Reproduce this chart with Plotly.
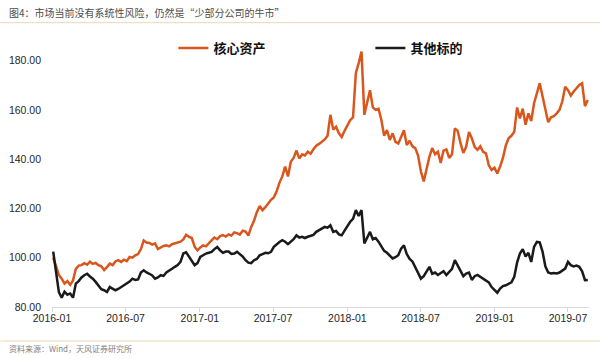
import pandas as pd
import plotly.graph_objects as go

# weekly observations starting 2016-01-04
start_date = "2016-01-04"
core_assets = [
    100.0, 96.5, 93.0, 91.5, 89.5, 90.5, 89.0, 90.8, 95.5, 96.8,
    97.0, 97.8, 97.2, 98.4, 97.5, 97.9, 97.0, 96.5, 95.0, 96.2,
    97.6, 97.0, 98.5, 99.0, 98.3, 99.2, 98.6, 100.3, 100.0, 101.0,
    101.5, 103.5, 107.0, 106.2, 106.0, 105.3, 105.8, 103.5, 104.2, 104.8,
    105.0, 104.6, 105.5, 105.8, 106.0, 106.5, 107.4, 109.3, 108.5, 108.0,
    104.5, 103.0, 104.2, 105.0, 104.6, 106.0, 107.0, 108.2, 107.5, 108.8,
    109.2, 108.6, 109.5, 109.0, 110.3, 110.0, 109.4, 111.0, 110.6, 109.0,
    112.5, 115.0, 118.5, 121.0, 119.3, 120.5, 122.0, 123.5, 124.5, 127.0,
    130.5, 133.0, 137.0, 133.0, 139.0, 140.5, 143.5, 140.3, 142.0, 141.5,
    143.0, 142.2, 144.0, 145.5, 146.2, 147.0, 148.0, 149.5, 158.0, 152.0,
    153.2, 150.5, 149.0, 151.5, 154.0, 155.8, 157.0, 175.0, 179.0, 183.7,
    158.0, 163.5, 168.0, 161.0, 160.0, 160.5, 156.0, 149.5, 151.8, 147.8,
    150.5, 147.0, 146.4, 149.0, 151.8, 145.7, 147.5, 145.2, 144.5, 141.5,
    135.0, 131.0, 136.5, 141.0, 144.5, 142.0, 143.0, 138.5, 143.5, 144.0,
    140.5, 142.0, 152.5, 151.5, 146.5, 142.5, 145.0, 151.0, 148.5, 145.0,
    143.8, 145.2, 143.0, 142.4, 137.5, 135.6, 136.5, 134.2, 137.0, 140.5,
    145.5, 148.5, 149.5, 151.1, 161.0, 156.5, 160.5, 154.0, 158.6, 155.5,
    162.7, 166.7, 170.8, 165.5, 160.0, 155.0, 157.0, 157.5, 158.6, 160.0,
    163.5, 169.4, 168.0, 165.8, 167.5, 169.0, 170.1, 170.8, 161.5, 164.0,
]
other_targets = [
    102.5, 93.0, 86.0, 83.8, 86.2, 85.0, 85.5, 83.8, 89.5, 90.5,
    92.0, 92.9, 93.5, 92.4, 91.5, 90.2, 88.5, 87.2, 86.8, 86.1,
    88.1, 87.5, 86.8, 87.3, 88.0, 88.6, 89.5, 90.3, 91.5, 91.0,
    91.2, 94.0, 94.9, 94.0, 93.5, 92.8, 91.5, 92.0, 92.9, 92.6,
    94.0, 94.9, 95.5, 96.3, 97.0, 98.3, 101.7, 102.2, 100.3, 98.5,
    97.0, 97.8, 100.3, 101.0, 101.7, 102.0, 102.4, 103.5, 104.4, 103.0,
    102.0, 102.5, 102.5, 101.5, 101.7, 102.4, 101.5, 100.5, 99.0, 98.0,
    97.8, 99.0, 99.5, 101.0, 101.5, 102.0, 101.8, 102.4, 104.4, 105.5,
    106.4, 107.1, 106.5, 105.5, 106.5, 107.5, 109.1, 108.2, 108.5, 108.0,
    108.5, 109.0, 109.3, 110.5, 111.2, 111.9, 112.5, 112.2, 113.2, 110.5,
    110.9, 109.5, 109.1, 111.0, 113.0, 114.6, 115.8, 119.3, 117.0, 119.3,
    105.8, 108.0, 110.5, 107.5, 108.0, 106.5, 104.4, 102.8, 102.0, 100.8,
    99.7, 100.2, 101.0, 103.7, 105.0, 101.5, 99.5, 98.5, 96.0, 93.5,
    91.5, 92.5, 94.5, 96.3, 93.5, 94.0, 93.0, 93.6, 94.5, 93.0,
    94.2, 95.5, 99.0, 97.0, 94.5, 92.5, 93.6, 94.0, 91.0, 92.5,
    93.0, 92.2, 91.5, 90.9, 90.0, 88.1, 87.0, 85.8, 87.5, 88.5,
    88.8, 89.5, 90.0, 92.2, 98.0, 101.7, 103.5, 100.5, 102.0, 98.3,
    104.4, 106.4, 106.2, 102.5, 96.5, 94.0, 93.6, 93.8, 93.6, 94.0,
    95.0, 95.6, 98.3, 97.0, 96.5, 96.8, 96.3, 94.5, 90.9, 91.0,
]
series_names = ["核心资产", "其他标的"]
y_ticks = [80, 100, 120, 140, 160, 180]

dates = pd.date_range(start_date, periods=len(core_assets), freq="7D")

title_text = "图4：市场当前没有系统性风险，仍然是“少部分公司的牛市”"
source_text = "资料来源：Wind，天风证券研究所"

fig = go.Figure()
fig.add_trace(go.Scatter(x=dates, y=core_assets, mode="lines", name=series_names[0],
                         line=dict(color="#d9561c", width=2.5)))
fig.add_trace(go.Scatter(x=dates, y=other_targets, mode="lines", name=series_names[1],
                         line=dict(color="#1a1a1a", width=2.5)))

L = 51.5
R = 589.0
H_PLOT_TOP = 36
H_PLOT_BOT = 306.7
PH = H_PLOT_BOT - H_PLOT_TOP
PW = R - L


def py(ypix):
    return (H_PLOT_BOT - ypix) / PH


def px(xpix):
    return (xpix - L) / PW


fig.update_layout(
    width=600, height=359, autosize=False,
    margin=dict(l=L, r=600 - R, t=H_PLOT_TOP, b=359 - H_PLOT_BOT, pad=0),
    paper_bgcolor="white", plot_bgcolor="white",
    font=dict(family="Liberation Sans, Arial, Noto Sans CJK SC", size=10, color="#262626"),
    showlegend=True,
    legend=dict(orientation="h", x=px(173), xanchor="left", y=py(48), yanchor="middle",
                entrywidth=152, entrywidthmode="pixels",
                font=dict(family="Noto Sans CJK SC", size=13, color="#111111", weight="bold"),
                bgcolor="rgba(0,0,0,0)", itemwidth=30, borderwidth=0),
    xaxis=dict(type="date", range=["2016-01-01", "2019-08-22"],
               tick0="2016-01-01", dtick="M6", tickformat="%Y-%m",
               showgrid=False, zeroline=False, automargin=False,
               showline=True, linecolor="#d9d9d9", linewidth=1,
               ticks="outside", ticklen=4, tickcolor="#d9d9d9",
               ticklabelstandoff=-3,
               tickfont=dict(size=10.5, color="#262626")),
    yaxis=dict(range=[80, 190], tickvals=y_ticks, tickformat=".2f",
               showgrid=False, zeroline=False, showline=False, automargin=False,
               ticks="", ticklabelstandoff=10,
               tickfont=dict(size=10.5, color="#262626")),
)

fig.add_shape(type="line", xref="paper", yref="paper", x0=px(0), x1=px(600),
              y0=py(22.7), y1=py(22.7), line=dict(color="#ead7b7", width=1))
fig.add_shape(type="line", xref="paper", yref="paper", x0=px(0), x1=px(600),
              y0=py(340.7), y1=py(340.7), line=dict(color="#ead7b7", width=1))

fig.add_annotation(text=title_text, xref="paper", yref="paper",
                   x=px(6), y=py(12.3), xanchor="left", yanchor="middle", showarrow=False,
                   font=dict(family="Noto Sans CJK SC", size=10, color="#4d4d4d"))
fig.add_annotation(text=source_text, xref="paper", yref="paper",
                   x=px(6), y=py(348.5), xanchor="left", yanchor="middle", showarrow=False,
                   font=dict(family="Noto Sans CJK SC", size=8, color="#7f7f7f"))

fig.write_html("out.html", config={"displayModeBar": False},
               post_script="document.body.style.margin='0';")
